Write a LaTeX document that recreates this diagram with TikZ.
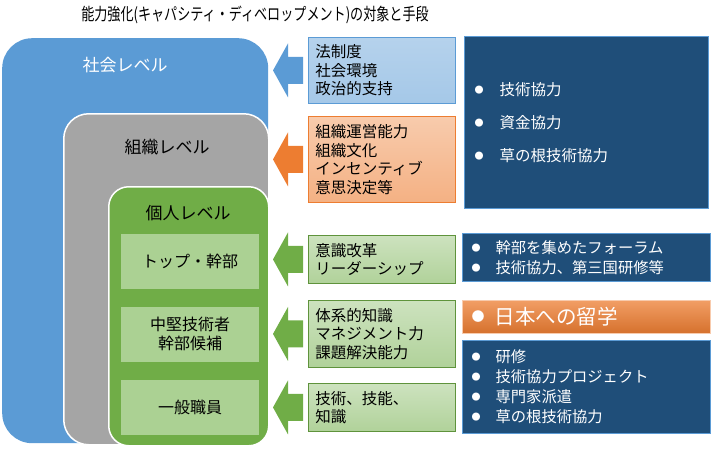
\documentclass[tikz,border=0pt]{standalone}
\usepackage{fontspec}
\setmainfont{Noto Sans CJK JP}
\usepackage{tikz}
\usetikzlibrary{positioning}
\definecolor{socBlue}{HTML}{5B9BD5}
\definecolor{orgGray}{HTML}{A5A5A5}
\definecolor{indGreen}{HTML}{70AD47}
\definecolor{subGreen}{HTML}{ABD193}
\definecolor{navyBox}{HTML}{1F4E79}
\definecolor{orgOrange}{HTML}{ED7D31}
\newcommand{\bul}{\raisebox{2pt}{\fontsize{9}{9}\selectfont ●}}
\newcommand{\bigBul}{\raisebox{3pt}{\fontsize{13}{13}\selectfont ●}}
% block arrow pointing left, from the west side of a node
\newcommand{\blockArrow}[2]{%
  \fill[#2] ([xshift=-5pt,yshift=13.5pt]#1.west) -- ([xshift=-20pt,yshift=13.5pt]#1.west)
    -- ([xshift=-20pt,yshift=27pt]#1.west) -- ([xshift=-35pt]#1.west)
    -- ([xshift=-20pt,yshift=-27pt]#1.west) -- ([xshift=-20pt,yshift=-13.5pt]#1.west)
    -- ([xshift=-5pt,yshift=-13.5pt]#1.west) -- cycle;}

\begin{document}
\begin{tikzpicture}[x=1pt,y=-1pt,
  levelBox/.style={anchor=north west, inner sep=0pt},
  levelLbl/.style={font=\fontsize{17}{20}\selectfont},
  subBox/.style={fill=subGreen, minimum width=138pt, minimum height=55pt, align=center, font=\fontsize{16}{19}\selectfont},
  midBox/.style={draw, line width=0.8pt, anchor=north west, minimum width=147pt, text width=133pt, inner xsep=7pt, align=left, font=\fontsize{15.5}{18.5}\selectfont},
  rightBox/.style={draw=socBlue, line width=1.2pt, fill=navyBox, text=white, anchor=north west, align=left, font=\fontsize{15.3}{20}\selectfont}]

\useasboundingbox (0,0) rectangle (720,448);

\node (title) at (255,15) {\scalebox{0.77}[1]{\fontsize{17}{19}\selectfont 能力強化(キャパシティ・ディベロップメント)の対象と手段}};

% nested levels
\node[levelBox, fill=socBlue, rounded corners=30pt, minimum width=266pt, minimum height=405pt] (soc) at (2,38) {};
\node[levelBox, fill=orgGray, draw=white, line width=1.5pt, rounded corners=25pt, minimum width=205pt, minimum height=331pt] (org) at (63,113) {};
\node[levelBox, fill=indGreen, draw=white, line width=1.5pt, rounded corners=20pt, minimum width=160pt, minimum height=259pt] (ind) at (108,186) {};
\node[levelLbl, text=white] (socLbl) at (125,65) {社会レベル};
\node[levelLbl] (orgLbl) at (167,147) {組織レベル};
\node[levelLbl] (indLbl) at (188,213) {個人レベル};

\node[subBox] (top) at (190,261) {トップ・幹部};
\node[subBox, below=18pt of top] (mid) {中堅技術者\\幹部候補};
\node[subBox, below=18pt of mid] (gen) {一般職員};

% targets
\node[midBox, draw=socBlue, top color=socBlue!45!white, bottom color=socBlue!55!white, minimum height=66pt] (law) at (308,37) {法制度\\社会環境\\政治的支持};
\node[midBox, draw=orgOrange, top color=orgOrange!40!white, bottom color=orgOrange!60!white, minimum height=86pt] (cult) at (308,116) {組織運営能力\\組織文化\\インセンティブ\\意思決定等};
\node[midBox, draw=indGreen!85!black, top color=indGreen!35!white, bottom color=indGreen!55!white, minimum height=48pt] (mind) at (308,235) {意識改革\\リーダーシップ};
\node[midBox, draw=indGreen!85!black, top color=indGreen!35!white, bottom color=indGreen!55!white, minimum height=67pt] (know) at (308,300) {体系的知識\\マネジメント力\\課題解決能力};
\node[midBox, draw=indGreen!85!black, top color=indGreen!35!white, bottom color=indGreen!55!white, minimum height=48pt] (skill) at (308,383) {技術、技能、\\知識};

% arrows
\blockArrow{law}{socBlue}
\blockArrow{cult}{orgOrange}
\blockArrow{mind}{indGreen}
\blockArrow{know}{indGreen}
\blockArrow{skill}{indGreen}

% means
\node[rightBox, minimum width=244pt, minimum height=172pt, text width=224pt, inner xsep=10pt, font=\fontsize{15.5}{33}\selectfont] (coop) at (464,36) {\bul\hspace{16pt}技術協力\\\bul\hspace{16pt}資金協力\\\bul\hspace{16pt}草の根技術協力};
\node[rightBox, minimum width=248pt, minimum height=48pt, text width=230pt, inner xsep=9pt] (forum) at (462,233) {\bul\hspace{15pt}幹部を集めたフォーラム\\\bul\hspace{15pt}技術協力、第三国研修等};
\node[rightBox, draw=orgOrange!40!white, top color=orgOrange!75!white, bottom color=orgOrange!90!black, minimum width=248pt, minimum height=33pt, text width=230pt, inner xsep=9pt, font=\fontsize{20.5}{22}\selectfont] (study) at (462,300) {\bigBul\hspace{10pt}日本への留学};
\node[rightBox, minimum width=248pt, minimum height=93pt, text width=230pt, inner xsep=9pt] (train) at (462,340) {\bul\hspace{15pt}研修\\\bul\hspace{15pt}技術協力プロジェクト\\\bul\hspace{15pt}専門家派遣\\\bul\hspace{15pt}草の根技術協力};
\end{tikzpicture}
\end{document}
